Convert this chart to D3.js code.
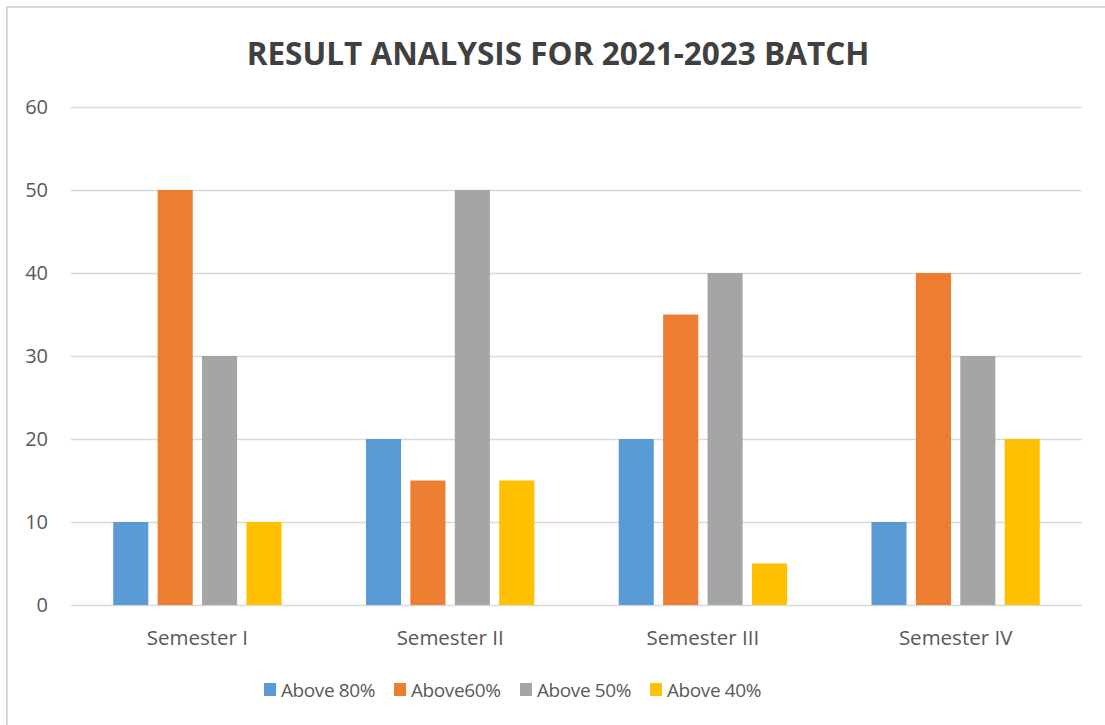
<!DOCTYPE html>
<html>
<head>
<meta charset="utf-8">
<script src="https://cdn.jsdelivr.net/npm/d3@7"></script>
<style>
  body { margin: 0; background: #fff; }
  text { font-family: "Open Sans", Lato, sans-serif; fill: #595959; }
  .grid line { stroke: #d9d9d9; stroke-width: 1.5; }
  .grid path { display: none; }
</style>
</head>
<body>
<script>
const semesters = ['Semester I', 'Semester II', 'Semester III', 'Semester IV']
const seriesNames = ['Above 80%', 'Above60%', 'Above 50%', 'Above 40%']
const colors = ['#5b9bd5', '#ed7d31', '#a5a5a5', '#ffc000']
const above80 = [10, 20, 20, 10]
const above60 = [50, 15, 35, 40]
const above50 = [30, 50, 40, 30]
const above40 = [10, 15, 5, 20]
const yTicks = [0, 10, 20, 30, 40, 50, 60]

const series = [above80, above60, above50, above40]

const W = 1105, H = 725
let margin = {top: 107, right: 23, bottom: 120, left: 71},
  width = W - margin.left - margin.right,
  height = H - margin.top - margin.bottom

let svg = d3.select('body').append('svg')
    .attr('width', W)
    .attr('height', H)

// chart area border (top + left visible)
svg.append('path')
    .attr('d', `M7,${H} L7,7 L${W},7`)
    .attr('fill', 'none')
    .attr('stroke', '#d9d9d9')
    .attr('stroke-width', 2)

svg.append('text')
    .attr('x', 558)
    .attr('y', 65)
    .attr('text-anchor', 'middle')
    .style('font-size', '31.5px')
    .style('font-weight', 'bold')
    .style('fill', '#404040')
    .text('RESULT ANALYSIS FOR 2021-2023 BATCH')

let g = svg.append('g')
    .attr('transform', `translate(${margin.left},${margin.top})`)

let x0 = d3.scaleBand()
    .domain(semesters)
    .range([0, width])

let x1 = d3.scaleBand()
    .domain(d3.range(seriesNames.length))
    .range([x0.bandwidth() * 0.167, x0.bandwidth() * 0.833])
    .paddingInner(0.21)

let y = d3.scaleLinear()
    .domain([0, 60])
    .range([height, 0])

// gridlines
g.append('g')
    .attr('class', 'grid')
    .call(d3.axisLeft(y).tickValues(yTicks).tickSize(-width).tickFormat(''))

// y tick labels
g.selectAll('.ylab')
  .data(yTicks)
  .join('text')
    .attr('class', 'ylab')
    .attr('x', -23)
    .attr('y', d => y(d) + 7)
    .attr('text-anchor', 'end')
    .style('font-size', '20px')
    .text(d => d)

// bars
let groups = g.selectAll('.sem')
  .data(semesters)
  .join('g')
    .attr('class', 'sem')
    .attr('transform', d => `translate(${x0(d)},0)`)

groups.selectAll('rect')
  .data((d, i) => series.map((s, k) => ({k: k, v: s[i]})))
  .join('rect')
    .attr('x', d => x1(d.k))
    .attr('y', d => y(d.v))
    .attr('width', x1.bandwidth())
    .attr('height', d => height - y(d.v))
    .attr('fill', d => colors[d.k])

// category labels
groups.append('text')
    .attr('x', x0.bandwidth() / 2)
    .attr('y', height + 40)
    .attr('text-anchor', 'middle')
    .style('font-size', '20.5px')
    .text(d => d)

// legend
const legendX = [264, 394, 520, 650]
let leg = svg.selectAll('.leg')
  .data(seriesNames)
  .join('g')
    .attr('class', 'leg')
    .attr('transform', (d, i) => `translate(${legendX[i]},683)`)

leg.append('rect')
    .attr('width', 12)
    .attr('height', 13)
    .attr('fill', (d, i) => colors[i])

leg.append('text')
    .attr('x', 17)
    .attr('y', 14)
    .style('font-size', '19px')
    .style('letter-spacing', '-0.4px')
    .text(d => d)
</script>
</body>
</html>
